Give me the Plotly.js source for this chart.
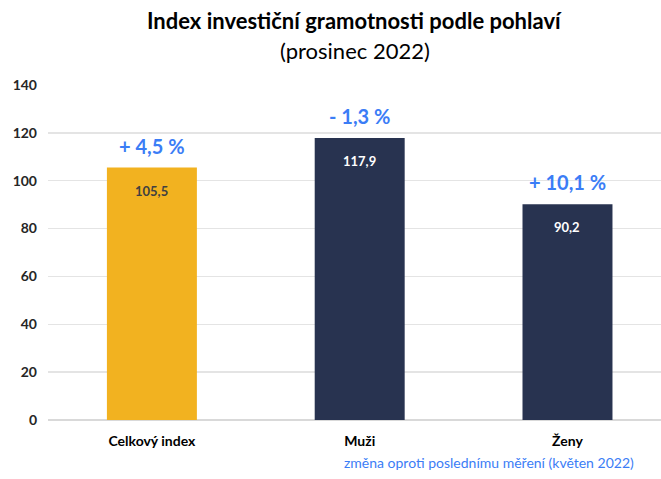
<!DOCTYPE html>
<html>
<head>
<meta charset="utf-8">
<script src="https://cdn.plot.ly/plotly-3.0.1.min.js"></script>
<style>
  html, body { margin: 0; padding: 0; background: #ffffff; }
  #chart { width: 661px; height: 479px; }
</style>
</head>
<body>
<div id="chart"></div>
<script>
const categories = ['Celkový index', 'Muži', 'Ženy'];
const indexValues = [105.5, 117.9, 90.2];
const changeLabels = ['+ 4,5 %', '- 1,3 %', '+ 10,1 %'];
const barColors = ['#F2B220', '#283350', '#283350'];
const valueTextColors = ['#404040', '#ffffff', '#ffffff'];
const yTicks = [0, 20, 40, 60, 80, 100, 120, 140];
const titleLine1 = 'Index investiční gramotnosti podle pohlaví';
const titleLine2 = '(prosinec 2022)';
const noteText = 'změna oproti poslednímu měření (květen 2022)';

const FONT = 'Lato, "Open Sans", sans-serif';
const fmt = v => v.toFixed(1).replace('.', ',');

const trace = {
  type: 'bar',
  x: categories,
  y: indexValues,
  marker: { color: barColors, line: { width: 0 } },
  hoverinfo: 'skip',
  showlegend: false
};

const annotations = [];
categories.forEach((c, i) => {
  annotations.push({
    x: c, y: indexValues[i], xref: 'x', yref: 'y',
    text: '<b>' + fmt(indexValues[i]) + '</b>',
    showarrow: false, yshift: -23, yanchor: 'middle',
    font: { family: FONT, size: 13, color: valueTextColors[i] }
  });
  annotations.push({
    x: c, y: indexValues[i], xref: 'x', yref: 'y',
    text: '<b>' + changeLabels[i] + '</b>',
    showarrow: false, yshift: 22, yanchor: 'middle',
    font: { family: FONT, size: 20, color: '#3B7DF6' }
  });
});
annotations.push({
  xref: 'paper', yref: 'paper', x: 0.5, y: 1.194,
  xanchor: 'center', yanchor: 'middle', showarrow: false,
  text: '<b>' + titleLine1 + '</b>',
  font: { family: FONT, size: 22, color: '#000000' }
});
annotations.push({
  xref: 'paper', yref: 'paper', x: 0.5, y: 1.104,
  xanchor: 'center', yanchor: 'middle', showarrow: false,
  text: titleLine2,
  font: { family: FONT, size: 22, color: '#000000' }
});
annotations.push({
  xref: 'paper', yref: 'paper', x: 0.96, y: -0.128,
  xanchor: 'right', yanchor: 'middle', showarrow: false,
  text: noteText,
  font: { family: FONT, size: 14, color: '#3B7DF6' }
});

const layout = {
  width: 661, height: 479,
  margin: { l: 48, r: 0, t: 85, b: 59 },
  paper_bgcolor: '#ffffff', plot_bgcolor: '#ffffff',
  separators: ', ',
  bargap: 0.567,
  xaxis: {
    type: 'category',
    range: [-0.5, 2.45],
    showgrid: false, zeroline: false, showline: false,
    ticks: '', ticklabelstandoff: 11,
    tickfont: { family: FONT, size: 14, color: '#000000', weight: 'bold' },
    fixedrange: true
  },
  yaxis: {
    range: [0, 140],
    tickvals: yTicks,
    ticktext: yTicks.map(String),
    showgrid: true, gridcolor: '#e4e4e4', gridwidth: 1.5,
    zeroline: true, zerolinecolor: '#d9d9d9', zerolinewidth: 1.5,
    showline: false, ticks: '', ticklabelstandoff: 10,
    tickfont: { family: FONT, size: 14, color: '#262626', weight: 'bold' },
    fixedrange: true
  },
  annotations: annotations
};

Plotly.newPlot('chart', [trace], layout, { displayModeBar: false, staticPlot: true });
</script>
</body>
</html>
